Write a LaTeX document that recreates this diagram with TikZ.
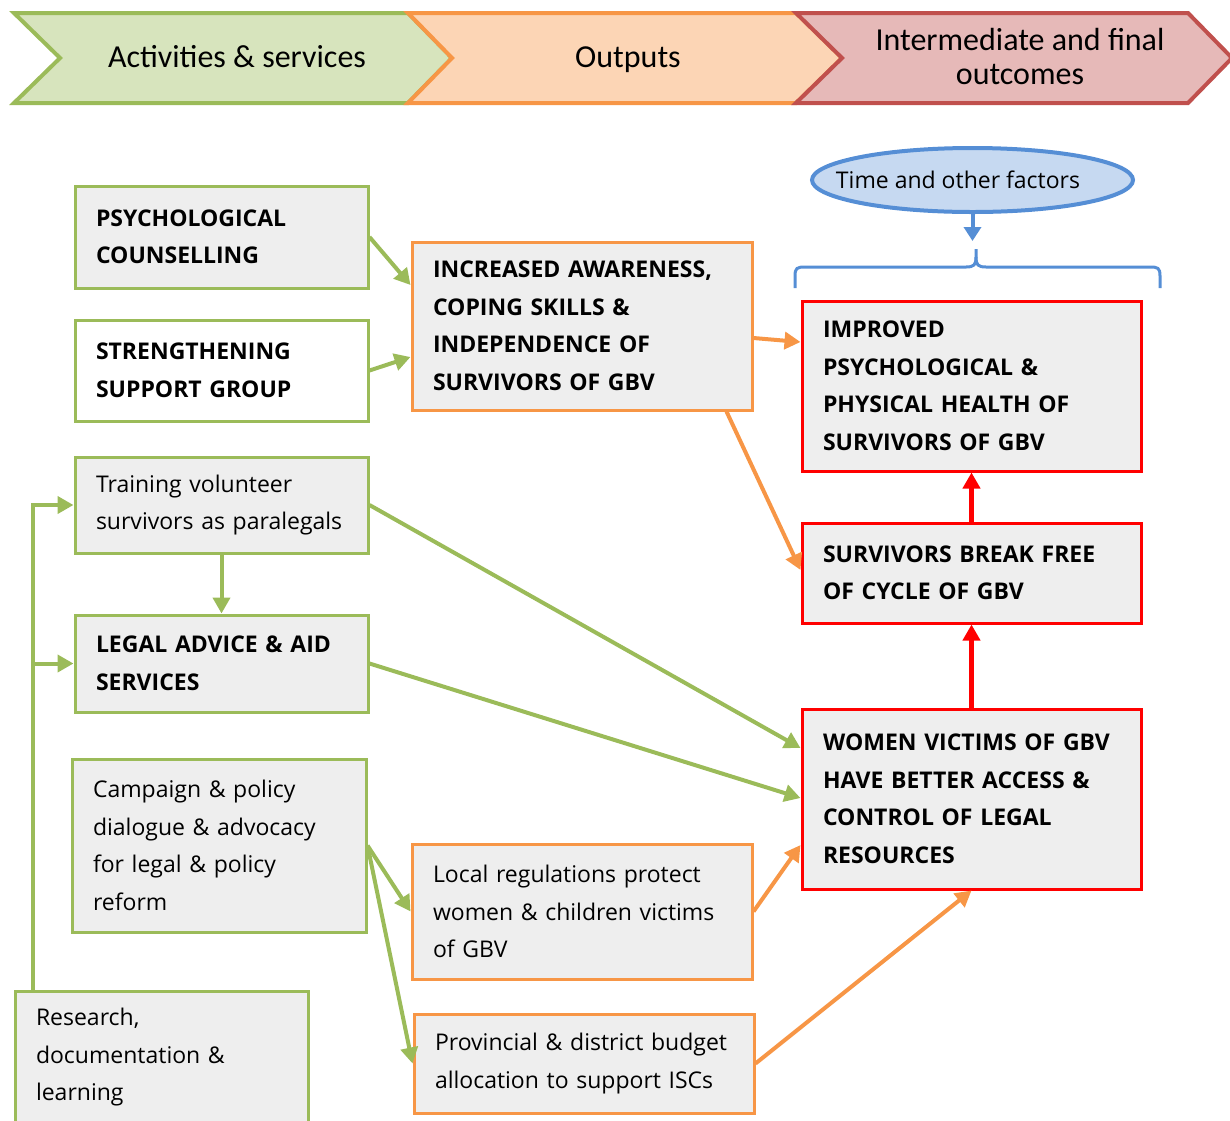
\documentclass[tikz,border=0pt]{standalone}
\usepackage{fontspec}
\setmainfont{Open Sans}
\newfontfamily\hdrfont{Carlito}
\usetikzlibrary{arrows.meta,shapes.geometric,calc}
\definecolor{grn}{HTML}{9BBB59}
\definecolor{grnfill}{HTML}{D7E4BD}
\definecolor{org}{HTML}{F79646}
\definecolor{orgfill}{HTML}{FCD5B5}
\definecolor{rdb}{HTML}{C0504D}
\definecolor{rdfill}{HTML}{E6B9B8}
\definecolor{boxgray}{HTML}{EEEEEE}
\definecolor{bred}{HTML}{FF0000}
\definecolor{blu}{HTML}{558ED5}
\definecolor{blufill}{HTML}{C6D9F1}
\begin{document}
\begin{tikzpicture}[x=1pt,y=-1pt,
  box/.style={draw, rectangle, line width=3pt, fill=boxgray, align=left,
    inner xsep=21pt, inner ysep=0pt, font=\fontsize{23}{37.5}\selectfont},
  boldbox/.style={box, font=\fontsize{23}{37.5}\selectfont\bfseries},
  gbox/.style={draw=grn},
  obox/.style={draw=org},
  rbox/.style={draw=bred},
  chev/.style={line width=4pt, line join=miter},
  hdr/.style={font=\hdrfont\fontsize{32}{34}\selectfont, align=center, inner sep=0pt},
  garrow/.style={draw=grn, line width=4pt, -{Triangle[length=16pt,width=17pt]}},
  oarrow/.style={draw=org, line width=4pt, -{Triangle[length=16pt,width=17pt]}},
  rarrow/.style={draw=bred, line width=4.5pt, -{Triangle[length=16pt,width=17pt]}},
  barrow/.style={draw=blu, line width=4pt, -{Triangle[length=14pt,width=17pt]}},
]
\useasboundingbox (0,0) rectangle (1230,1120);

% header chevrons
\filldraw[chev, draw=grn, fill=grnfill] (14,13) -- (408,13) -- (452,58) -- (408,103) -- (14,103) -- (60,58) -- cycle;
\filldraw[chev, draw=org, fill=orgfill] (408,13) -- (796,13) -- (842,58) -- (796,103) -- (408,103) -- (452,58) -- cycle;
\filldraw[chev, draw=rdb, fill=rdfill] (796,13) -- (1188,13) -- (1232,58) -- (1188,103) -- (796,103) -- (842,58) -- cycle;
\node[hdr] (hdr1) at (237,57) {Activities \& services};
\node[hdr] (hdr2) at (628,60) {Outputs};
\node[hdr] (hdr3) at (1020,57) {Intermediate and final\\outcomes};

% activities
\node[boldbox, gbox, minimum width=293pt, minimum height=102pt, text width=251pt] (psy) at (221.5,237) {PSYCHOLOGICAL\\COUNSELLING\\[4pt]};
\node[boldbox, gbox, fill=white, minimum width=293pt, minimum height=101pt, text width=251pt] (str) at (221.5,370.5) {STRENGTHENING\\SUPPORT GROUP\\[4pt]};
\node[box, gbox, minimum width=293pt, minimum height=96pt, text width=251pt] (train) at (221.5,505) {Training volunteer\\survivors as paralegals};
\node[boldbox, gbox, minimum width=293pt, minimum height=97pt, text width=251pt] (legal) at (221.5,663.5) {LEGAL ADVICE \& AID\\SERVICES};
\node[box, gbox, minimum width=294pt, minimum height=173pt, text width=252pt] (camp) at (219,845.5) {Campaign \& policy\\dialogue \& advocacy\\for legal \& policy\\reform};
\node[box, gbox, minimum width=293pt, minimum height=133pt, text width=251pt] (res) at (161.5,1057.5) {Research,\\documentation \&\\learning};

% outputs
\node[boldbox, obox, minimum width=340pt, minimum height=168pt, text width=298pt] (aware) at (582,326) {INCREASED AWARENESS,\\COPING SKILLS \&\\INDEPENDENCE OF\\SURVIVORS OF GBV};
\node[box, obox, minimum width=340pt, minimum height=135pt, text width=298pt] (local) at (582,911.5) {Local regulations protect\\women \& children victims\\of GBV};
\node[box, obox, minimum width=340pt, minimum height=99pt, text width=298pt] (prov) at (584,1063.5) {Provincial \& district budget\\allocation to support ISCs};

% outcomes
\node[boldbox, rbox, minimum width=339pt, minimum height=170pt, text width=297pt] (impr) at (971.5,386) {IMPROVED\\PSYCHOLOGICAL \&\\PHYSICAL HEALTH OF\\SURVIVORS OF GBV};
\node[boldbox, rbox, minimum width=339pt, minimum height=100pt, text width=297pt] (brk) at (971.5,573) {SURVIVORS BREAK FREE\\OF CYCLE OF GBV\\[3pt]};
\node[boldbox, rbox, minimum width=339pt, minimum height=180pt, text width=297pt] (women) at (971.5,799) {WOMEN VICTIMS OF GBV\\HAVE BETTER ACCESS \&\\CONTROL OF LEGAL\\RESOURCES\\[13pt]};

% time ellipse and brace
\node[ellipse, draw=blu, fill=blufill, line width=4pt, minimum width=321pt, minimum height=64pt, inner sep=0pt, font=\fontsize{23}{26}\selectfont] (ell) at (972.5,180) {\makebox[0pt]{Time and other factors\kern29pt}};
\coordinate (bt) at (973,241);
\draw[barrow] (ell.south) -- (ell.south |- bt);
\draw[draw=blu, line width=3pt] (795,288) -- (795,276) .. controls (795,268) and (797,267) .. (805,267) -- (966,267) .. controls (974,267) and (976,265) .. (976,257) -- (976,249);
\draw[draw=blu, line width=3pt] (976,257) .. controls (976,265) and (978,267) .. (986,267) -- (1150,267) .. controls (1158,267) and (1160,268) .. (1160,276) -- (1160,288);

% green connectors
\draw[garrow] (psy.east) -- ([yshift=41pt]aware.west);
\draw[garrow] (str.east) -- ([yshift=-31pt]aware.west);
\draw[garrow] (train.east) -- ([yshift=51pt]women.west);
\draw[garrow] (train.south) -- (legal.north);
\draw[garrow] (legal.east) -- ([yshift=1pt]women.west);
\draw[garrow] (camp.east) -- (local.west);
\draw[garrow] (camp.east) -- (prov.west);
\draw[garrow] ([xshift=19pt]res.north west) coordinate (rj) |- (train.west);
\draw[garrow] (rj |- legal.west) -- (legal.west);

% orange connectors
\draw[oarrow] ([yshift=-12pt]aware.east) -- ([yshift=44pt]impr.west);
\draw[oarrow] ([xshift=-27pt]aware.south east) -- ([yshift=3pt]brk.west);
\draw[oarrow] (local.east) -- ([yshift=-46pt]women.west);
\draw[oarrow] (prov.east) -- (women.south);

% red connectors
\draw[rarrow] (brk.north) -- (impr.south);
\draw[rarrow] (women.north) -- (brk.south);
\end{tikzpicture}
\end{document}
